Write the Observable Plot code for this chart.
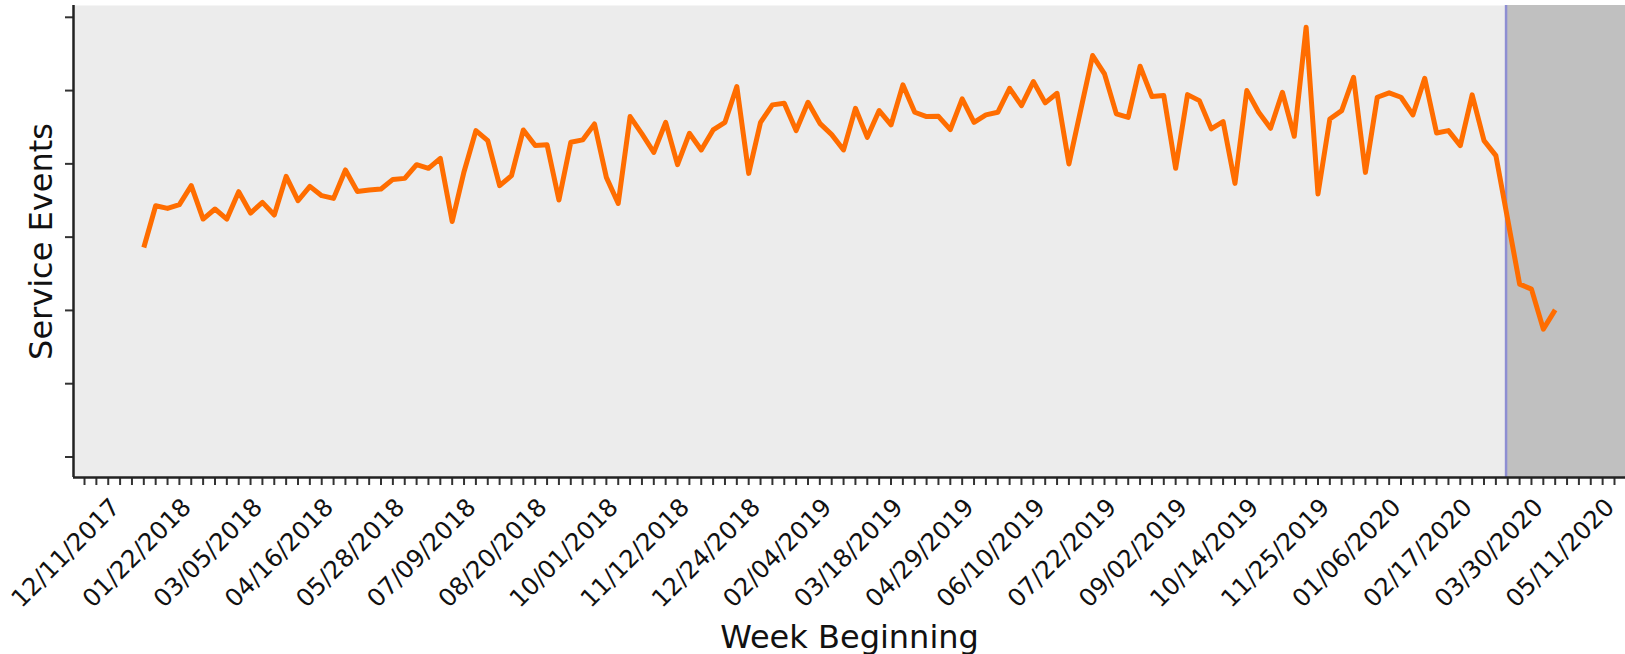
<!DOCTYPE html>
<html><head><meta charset="utf-8">
<script src="https://cdn.jsdelivr.net/npm/d3@7"></script>
<script src="https://cdn.jsdelivr.net/npm/@observablehq/plot@0.6"></script>
<style>html,body{margin:0;padding:0;background:#fff}#chart svg{display:block}</style>
</head><body><div id="chart"></div>
<script>
// Weekly series, first week beginning 12/25/2017
const firstWeek = "2017-12-25";
const serviceEvents = [
  2859, 3429, 3392, 3443, 3702, 3247, 3384, 3247, 3620, 3329,
  3474, 3302, 3829, 3497, 3693, 3566, 3529, 3917, 3624, 3643,
  3657, 3788, 3802, 3989, 3939, 4075, 3214, 3893, 4454, 4317,
  3702, 3839, 4463, 4249, 4262, 3507, 4294, 4327, 4545, 3816,
  3460, 4645, 4408, 4157, 4567, 3989, 4417, 4190, 4463, 4567,
  5055, 3870, 4567, 4805, 4827, 4454, 4840, 4553, 4399, 4190,
  4758, 4362, 4727, 4531, 5078, 4704, 4645, 4649, 4467, 4887,
  4567, 4668, 4704, 5031, 4795, 5123, 4832, 4963, 3999, 4740,
  5478, 5228, 4682, 4635, 5332, 4918, 4932, 3939, 4945, 4863,
  4477, 4577, 3734, 5000, 4704, 4485, 4977, 4376, 5865, 3589,
  4613, 4727, 5182, 3884, 4909, 4969, 4909, 4668, 5168, 4422,
  4454, 4249, 4941, 4317, 4112, 3238, 2359, 2291, 1745, 2008
];
const tickLabels = [
  "12/11/2017","01/22/2018","03/05/2018","04/16/2018","05/28/2018","07/09/2018",
  "08/20/2018","10/01/2018","11/12/2018","12/24/2018","02/04/2019","03/18/2019",
  "04/29/2019","06/10/2019","07/22/2019","09/02/2019","10/14/2019","11/25/2019",
  "01/06/2020","02/17/2020","03/30/2020","05/11/2020"
];
const firstMinorTick = "2017-11-20";
const shadeStart = "2020-03-08";
const xDomain = ["2017-11-13T12:00Z", "2020-05-17T12:00Z"];
const yDomain = [-280, 6161];
const yTicks = [0, 1000, 2000, 3000, 4000, 5000, 6000];

const parseISO = d3.utcParse("%Y-%m-%d");
const parseLabel = d3.utcParse("%m/%d/%Y");
const start = parseISO(firstWeek);
const data = serviceEvents.map((v, i) => ({date: d3.utcDay.offset(start, 7 * i), value: v}));
const labelDates = tickLabels.map(parseLabel);
const domX = xDomain.map(s => new Date(s));
const minorTicks = d3.range(0, 140).map(i => d3.utcDay.offset(parseISO(firstMinorTick), 7 * i)).filter(d => d <= domX[1]);
const shadeDate = parseISO(shadeStart);

const font = "DejaVu Sans";
const chart = Plot.plot({
  width: 1625,
  height: 654,
  marginLeft: 73,
  marginRight: 0,
  marginTop: 5,
  marginBottom: 177,
  style: {fontFamily: font, background: "#fff", overflow: "visible"},
  x: {type: "utc", domain: domX},
  y: {domain: yDomain},
  marks: [
    Plot.frame({fill: "#ececec", stroke: null}),
    Plot.rect([{x1: shadeDate, x2: domX[1]}], {x1: "x1", x2: "x2", fill: "#c0c0c0"}),
    Plot.ruleX([shadeDate], {stroke: "#8e8ed2", strokeWidth: 2.5}),
    Plot.line(data, {x: "date", y: "value", stroke: "#ff6d00", strokeWidth: 5, strokeLinejoin: "round", strokeLinecap: "butt"}),
    Plot.axisY(yTicks, {tickSize: 8, tickFormat: () => "", label: null, stroke: "#333", strokeWidth: 2}),
    Plot.axisX(minorTicks, {tickSize: 8, tickFormat: () => "", label: null, stroke: "#333", strokeWidth: 2}),
    Plot.ruleX([domX[0]], {stroke: "#222", strokeWidth: 2.5}),
    Plot.ruleY([yDomain[0]], {stroke: "#222", strokeWidth: 2.5}),
    Plot.text(labelDates, {x: d => d, text: d => d3.utcFormat("%m/%d/%Y")(d), frameAnchor: "bottom",
      rotate: -45, textAnchor: "end", lineAnchor: "top", dx: -11, dy: 19, fontSize: 24.5, fill: "#111"}),
    Plot.text(["Week Beginning"], {text: d => d, frameAnchor: "bottom", lineAnchor: "bottom", dy: 170, fontSize: 32, fill: "#111"}),
    Plot.text(["Service Events"], {text: d => d, frameAnchor: "left", rotate: -90, textAnchor: "middle", lineAnchor: "bottom", dx: -22, fontSize: 32, fill: "#111"})
  ]
});
document.getElementById("chart").appendChild(chart);
</script>
</body></html>
